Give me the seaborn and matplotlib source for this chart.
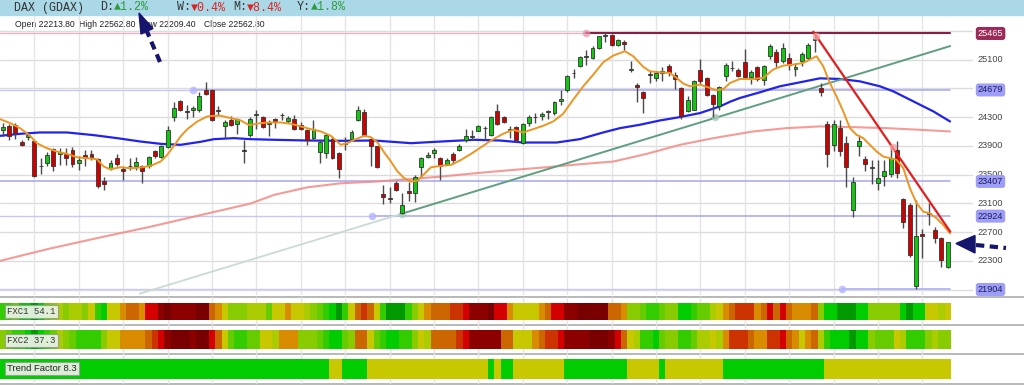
import numpy as np
import matplotlib
matplotlib.use("Agg")
import matplotlib.pyplot as plt
from matplotlib.colors import ListedColormap
from matplotlib.patches import Polygon, Rectangle
import seaborn as sns

# ---------------- data ----------------
opens = [24126,24181,24196,23954,24024,23973,23615,23670,23856,23791,
 23791,23847,23661,23773,23791,23717,23406,23578,23726,23578,
 23615,23615,23615,23615,23833,23745,23884,24303,24521,24386,
 24405,24395,24674,24674,24395,24182,24265,24210,23845,24056,
 24330,24302,24210,24279,24326,24247,24275,24196,24117,24010,
 23810,23801,23996,23801,23931,23996,24256,24368,23996,23894,
 23234,23178,23382,22964,23276,23252,23605,23745,23801,23731,
 23652,23791,23847,23977,24028,24112,24145,24056,24382,24302,
 24121,24163,23940,24219,24298,24321,24372,24358,24521,24684,
 24911,25009,25144,25125,25264,25427,25450,25311,25353,24958,
 24753,24646,24888,24846,24916,25018,24883,24707,24381,24405,
 24962,24846,24614,24461,24879,24981,24962,25064,24860,25000,
 24823,25148,25204,25078,25125,24976,25078,25125,25381,24707,
 24209,23917,24149,23940,23011,23902,23720,23595,23390,23483,
 23511,23846,23158,23079,21949,22680,22960,22732,22616,22213.8]
highs = [24219,24209,24219,23987,24080,23987,23731,23810,23870,23870,
 23870,23884,23754,23838,23838,23731,23475,23708,23791,23615,
 23731,23745,23638,23763,23838,23917,24172,24507,24535,24475,
 24461,24646,24786,24693,24461,24265,24321,24288,23987,24302,
 24396,24321,24256,24293,24358,24321,24330,24228,24135,24265,
 23987,24080,24033,23810,24024,24126,24451,24414,24010,23903,
 23359,23336,23406,23252,23392,23498,23745,23819,23870,23740,
 23726,23810,23926,24135,24126,24191,24182,24321,24488,24321,
 24172,24172,24219,24335,24358,24377,24405,24521,24674,24893,
 24972,25157,25232,25288,25436,25490,25464,25390,25371,25078,
 24776,24670,24939,24939,25000,25036,24925,24720,24600,24823,
 25111,24860,24628,24739,25055,25078,24986,25250,24962,25018,
 25032,25325,25250,25334,25195,25055,25204,25334,25460,24776,
 24242,24256,24256,24042,23475,24056,23754,23698,23698,23698,
 23870,23963,23172,23102,23150,22740,23102,22769,22639,22562.8]
lows = [24033,23987,23996,23894,23987,23475,23513,23615,23545,23638,
 23638,23606,23568,23615,23708,23313,23290,23568,23624,23420,
 23568,23568,23382,23591,23731,23731,23870,24242,24382,24275,
 24303,24368,24614,24242,24335,24010,24172,24070,23670,24024,
 24135,24144,24033,24144,24265,24219,24126,24126,23917,23987,
 23670,23731,23717,23452,23847,23987,24242,24042,23615,23591,
 23094,23104,23280,22955,23141,23127,23475,23731,23731,23429,
 23638,23652,23824,23950,23987,24103,23987,24042,24196,24219,
 24010,23959,23931,24172,24219,24265,24275,24335,24475,24646,
 24846,25000,25032,25111,25250,25343,25288,25288,25232,24925,
 24507,24358,24776,24800,24800,24869,24693,24275,24368,24395,
 24767,24600,24302,24405,24800,24939,24860,24846,24767,24800,
 24753,25111,25000,25055,24953,24869,25018,25102,25204,24591,
 23605,23824,23754,23336,22918,23763,23545,23372,23290,23345,
 23475,23450,22755,22358,21904,22340,22801,22546,22211,22209.4]
closes = [24163,24042,24080,23908,24052,23489,23624,23777,23615,23810,
 23731,23652,23708,23726,23745,23345,23368,23670,23652,23550,
 23620,23675,23545,23745,23754,23894,24117,24423,24405,24377,
 24423,24600,24628,24256,24391,24237,24196,24275,23835,24275,
 24340,24158,24214,24247,24335,24293,24135,24135,23987,24135,
 23954,24052,23736,23578,23945,24098,24395,24056,23894,23601,
 23187,23169,23290,23080,23243,23475,23731,23777,23847,23615,
 23708,23708,23894,24033,24038,24172,24154,24302,24210,24237,
 24131,23977,24200,24302,24307,24349,24382,24507,24554,24879,
 24920,25139,25153,25264,25427,25441,25311,25371,25315,24967,
 24720,24567,24897,24916,24944,24925,24832,24312,24544,24800,
 24800,24614,24488,24720,25032,24990,24869,24860,24925,24832,
 25009,25297,25064,25264,25032,24995,25185,25311,25394,24646,
 23791,24209,23824,23606,23404,23972,23652,23604,23451,23558,
 23731,23520,22847,22381,22646,22645,22969,22616,22313,22562.8]

orange_idx = [-0.42,1.16,2.74,4.32,5.38,6.96,8.54,10.12,11.70,13.28,14.87,15.92,16.97,18.56,20.14,
 21.72,23.30,24.88,25.94,26.99,28.04,29.10,30.68,32.26,33.32,34.37,35.95,37.53,38.85,40.68,
 42.26,43.84,45.42,47.0,48.58,50.16,51.74,53.32,54.37,55.42,57.0,58.05,59.11,60.16,61.21,
 62.26,63.32,64.37,65.42,66.47,67.53,69.11,70.68,72.26,73.84,75.42,77.0,78.89,80.47,82.05,
 83.63,85.21,86.79,88.37,89.95,91.53,93.11,94.68,96.26,98.11,99.42,101.0,102.05,103.63,105.21,
 106.26,107.32,108.37,109.95,111.53,112.58,113.63,114.68,116.21,118.32,119.89,121.47,123.05,124.63,126.21,
 127.26,128.32,129.37,130.42,131.47,132.53,133.58,134.63,135.68,136.74,137.79,138.84,139.89,140.95,142.0,
 143.05,144.11,145.16,146.21,147.26,148.32,149.37]
orange_val = [24274,24218,24148,24041,23939,23869,23823,23790,23744,23730,23716,23614,23576,23604,23590,
 23600,23623,23683,23776,23902,24032,24134,24241,24311,24320,24320,24288,24255,24190,24218,
 24227,24227,24209,24172,24134,24102,24041,23916,23939,23986,24041,24023,23948,23809,23683,
 23544,23451,23404,23418,23511,23604,23623,23637,23706,23790,23883,23976,24069,24125,24088,
 24134,24181,24241,24348,24544,24730,24892,25064,25157,25218,25148,25000,24939,24925,24916,
 24846,24767,24730,24753,24706,24674,24692,24776,24832,24832,24846,24962,25018,25032,25055,
 25102,25148,25009,24776,24590,24381,24148,24055,24009,23916,23823,23753,23730,23707,23590,
 23311,23102,22986,22962,22893,22800,22684]

blue_idx = [-0.42,2.74,5.90,10.12,14.34,18.03,21.72,24.88,28.04,31.21,33.32,36.48,39.0,42.79,48.05,
 53.32,58.58,64.37,69.11,74.37,78.37,82.05,87.32,91.0,94.68,97.32,100.47,103.63,106.79,109.95,
 113.11,114.68,116.21,119.37,122.53,125.68,128.84,132.0,135.16,138.32,140.42,142.53,144.63,146.74,149.37]
blue_val = [24041,24069,24088,24088,24051,24009,23962,23930,23916,23958,23995,24009,23995,23986,23976,
 23972,23976,23939,23962,23986,23976,23948,23948,23995,24088,24148,24195,24255,24302,24358,
 24451,24515,24567,24646,24730,24785,24841,24832,24799,24730,24660,24567,24474,24381,24241]

salmon_idx = [-0.42,7.49,15.39,23.30,31.21,39.11,42.79,48.05,53.32,58.58,63.84,69.11,74.37,80.47,
 85.74,91.0,96.26,101.53,106.79,112.05,118.32,123.58,128.84,134.11,139.37,144.63,149.37]
salmon_val = [22302,22474,22628,22777,22939,23100,23220,23325,23381,23404,23437,23474,23520,23567,
 23604,23646,23683,23790,23916,24009,24102,24148,24172,24162,24148,24125,24102]

levels = [25465, 24679, 23407, 22924, 21904]
level_anchor = [92.0, 30.0, -0.4, 58.2, 132.3]

green_trend_idx = [21.6, 63.0, 149.4]
green_trend_val = [21845, 22960, 25290]
red_trend_idx = [127.8, 149.4]
red_trend_val = [25490, 22708]
green_touch_idx = [63.0, 112.3]
green_touch_val = [22960, 24303]
red_touch_idx = [128.3, 140.3]
red_touch_val = [25427, 23880]

grid_ticks = [21900, 22300, 22700, 23100, 23500, 23900, 24300, 24700, 25100, 25500]
label_ticks = [22300, 22700, 23100, 23500, 23900, 24300, 25100]

fxc1 = [10,10,9,11,11,12,11,9,8,7, 8,7,7,8,6,10,11,6,6,5, 4,4,5,2,2,1,0,1,1,1,
        1,0,0,4,5,6,8,8,8,7, 7,7,9,6,6,5,6,6,7,8, 9,10,11,12,10,6,4,3,4,6,
        10,12,12,12,10,8,6,5,4,4, 4,3,3,2,1,1,1,0,2,2, 5,6,6,6,6,5,4,2,2,1,
        1,0,0,0,0,0,4,4,5,8, 8,9,10,10,9,8,8,11,11,10, 9,9,7,6,5,4,3,3,3,5,
        4,2,4,2,4,5,5,5,4,8, 11,11,12,12,12,11,11,8,8,8, 8,8,11,12,11,11,6,6,7,6]
fxc2 = [8,9,10,10,11,12,11,10,9,7, 8,9,10,10,10,10,8,6,6,5, 5,5,5,4,3,2,1,0,0,0,
        1,0,0,2,4,6,9,10,10,9, 9,6,6,7,5,5,5,8,8,8, 9,10,11,11,9,8,4,4,6,9,
        10,11,11,10,10,8,6,7,4,4, 4,4,3,2,1,1,1,1,1,4, 4,6,6,6,5,4,3,3,2,1,
        1,1,1,0,0,0,1,2,4,6, 7,10,10,11,9,8,8,10,10,9, 7,7,6,7,5,3,3,3,4,5,
        5,3,3,2,4,5,6,5,4,7, 10,11,11,11,12,11,11,8,9,9, 9,6,7,10,10,10,8,7,8,8]
trend = [1]*52 + [0]*2 + [1]*4 + [0]*19 + [1] + [0] + [1]*2 + [0]*8 + [1]*10 + [0]*5 + [1] + [0]*9 + [1]*16 + [0]*20

heat_colors = ['#780000', '#8c0000', '#d40000', '#cc3300', '#cc6600', '#d98c00', '#c8c800',
               '#aacc00', '#88cc00', '#66cc00', '#33cc00', '#00cc00', '#009900']
trend_colors = ['#c8c800', '#00cc00']

# ---------------- figure ----------------
sns.set_theme(style="white")
plt.rcParams['font.family'] = ['Liberation Sans', 'DejaVu Sans']
MONO = ['Liberation Mono', 'DejaVu Sans Mono']

W, H = 1024, 385
fig = plt.figure(figsize=(W / 100, H / 100), dpi=100)
fig.patch.set_facecolor('white')


def axes_px(x0, y0, x1, y1, z=1):
    a = fig.add_axes([x0 / W, 1 - y1 / H, (x1 - x0) / W, (y1 - y0) / H])
    a.set_zorder(z)
    a.patch.set_alpha(0)
    return a


XL = (-0.426, 152.99)
YL = (21827, 25708)
n = len(closes)
x = np.arange(n)

# background
bg = axes_px(0, 0, W, H, z=0)
bg.set_xlim(0, W); bg.set_ylim(H, 0); bg.set_axis_off()
bg.add_patch(Rectangle((0, 0), W, 15, color='#aad8e6', zorder=1))
for yy in [296.5, 325, 354, 383.5]:
    bg.axhline(yy, color='#b8b8b8', lw=1.4)

# header text
hdr_y = 7.5
bg.text(14, hdr_y, "DAX (GDAX)", family=MONO, fontsize=8.4, color='#333333', va='center')
for xs, lab, val, col in [(100, "D:", "\u25b21.2%", '#2f9a3f'), (177, "W:", "\u25bc0.4%", '#dd2222'),
                          (233, "M:", "\u25bc8.4%", '#dd2222'), (297, "Y:", "\u25b21.8%", '#2f9a3f')]:
    bg.text(xs, hdr_y, lab, family=MONO, fontsize=8.4, color='#333333', va='center')
    bg.text(xs + 14, hdr_y, val, family=MONO, fontsize=8.4, color=col, va='center')
for xs, s in [(15, "Open 22213.80"), (79, "High 22562.80"), (141, "Low 22209.40"), (204, "Close 22562.80")]:
    bg.text(xs, 24.5, s, fontsize=6.2, color='#222222', va='center')

# main chart
ax = axes_px(0, 16, 973, 295, z=2)
ax.set_xlim(XL); ax.set_ylim(YL)
ax.set_axis_off()
for t in grid_ticks:
    ax.plot([XL[0], XL[1]], [t, t], color='#dcdcdc', lw=1.0, zorder=0.5)
for g in range(5, n, 7):
    ax.plot([g, g], [YL[0], YL[1]], color='#e4e4e4', lw=1.0, zorder=0.5)

# level lines
for lv, anc in zip(levels, level_anchor):
    if lv == 25465:
        ax.plot([XL[0], anc], [lv, lv], color='#e6b4c4', lw=1.0, zorder=1)
        ax.plot([anc, 149.4], [lv, lv], color='#8c1c44', lw=1.5, zorder=1.2)
        ax.scatter([anc], [lv], s=30, color='#e890a8', alpha=0.7, zorder=1.3, linewidths=0)
    else:
        ax.plot([XL[0], anc], [lv, lv], color='#c8c8f6', lw=1.0, zorder=1)
        ax.plot([anc, 149.4], [lv, lv], color='#a4a4f4', lw=1.1, zorder=1.2)
        if anc > 0:
            ax.scatter([anc], [lv], s=30, color='#b4b4ff', alpha=0.8, zorder=1.3, linewidths=0)

# moving averages
sns.lineplot(x=salmon_idx, y=salmon_val, ax=ax, color='#f48a84', lw=1.5, alpha=0.85, zorder=1.5)
sns.lineplot(x=blue_idx, y=blue_val, ax=ax, color='#2222f0', lw=1.6, zorder=1.6)

# trend lines
ax.plot(green_trend_idx[:2], green_trend_val[:2], color='#c9dcd2', lw=1.3, zorder=1.7)
ax.plot(green_trend_idx[1:], green_trend_val[1:], color='#5f9f80', lw=1.4, zorder=1.7)
ax.scatter(green_touch_idx, green_touch_val, s=28, color='#a8c8b8', alpha=0.8, zorder=1.8, linewidths=0)

# candles
o = np.array(opens); c = np.array(closes); hi = np.array(highs); lo = np.array(lows)
ax.vlines(x, lo, hi, color='#4a4a4a', lw=1.0, zorder=3)
body_bot = np.minimum(o, c)
body_h = np.maximum(np.abs(c - o), 8)
cols = ['#10c810' if cc >= oo else '#d00000' for oo, cc in zip(o, c)]
ax.bar(x, body_h, bottom=body_bot, width=0.62, color=cols, edgecolor='#333333', linewidth=0.6, zorder=3.5)

sns.lineplot(x=orange_idx, y=orange_val, ax=ax, color='#ee9520', lw=1.4, zorder=3.8)
ax.plot(red_trend_idx, red_trend_val, color='#e41e1e', lw=1.6, zorder=4)
ax.scatter(red_touch_idx, red_touch_val, s=30, color='#f4a0a0', alpha=0.75, zorder=4.1, linewidths=0)

# right labels
LX = 153.75
for t in label_ticks:
    ax.text(LX, t, str(t), fontsize=6.6, color='#444444', va='center', ha='left', clip_on=False, zorder=5)
for lv in levels:
    if lv == 25465:
        fc, tc = '#9c2a58', 'white'
    else:
        fc, tc = '#9e9ef8', '#1c1c5c'
    ax.text(LX, lv, str(lv), fontsize=6.6, color=tc, va='center', ha='left', clip_on=False, zorder=6,
            bbox=dict(boxstyle='round,pad=0.22,rounding_size=0.3', fc=fc, ec='none'))

# lower panel grid
panel = axes_px(0, 295, 973, 385, z=1)
panel.set_xlim(XL); panel.set_ylim(385, 295); panel.set_axis_off()
for g in range(5, n, 7):
    panel.plot([g, g], [297, 383], color='#e4e4e4', lw=1.0)

# heat strips
XLh = (XL[0] + 0.5, XL[1] + 0.5)
for (y0, y1), arr, cl in [((303, 320), fxc1, heat_colors), ((330, 349), fxc2, heat_colors),
                           ((359, 379), trend, trend_colors)]:
    s = axes_px(0, y0, 973, y1, z=3)
    sns.heatmap(np.array([arr]), ax=s, cmap=ListedColormap(cl), vmin=-0.5, vmax=len(cl) - 0.5,
                cbar=False, xticklabels=False, yticklabels=False, linewidths=0)
    s.set_xlim(XLh)
    s.set_xlabel(''); s.set_ylabel('')
    for sp in s.spines.values():
        sp.set_visible(False)

# overlay: labels and arrows
ov = axes_px(0, 0, W, H, z=10)
ov.set_xlim(0, W); ov.set_ylim(H, 0); ov.set_axis_off()
box = dict(boxstyle='square,pad=0.25', fc='#eef3ea', ec='#9a9a9a', lw=0.8, alpha=0.92)
ov.text(7, 311.5, "FXC1 54.1", family=MONO, fontsize=6.5, color='#333333', va='center', bbox=box)
ov.text(7, 340.5, "FXC2 37.3", family=MONO, fontsize=6.5, color='#333333', va='center', bbox=box)
ov.text(7, 368.5, "Trend Factor 8.3", fontsize=6.8, color='#222222', va='center', bbox=box)

navy = '#15156e'
ov.plot([160, 147], [62, 31.5], color=navy, lw=3, linestyle=(0, (2.0, 1.3)), solid_capstyle='butt')
ov.add_patch(Polygon([(139, 13), (153, 28.5), (141, 34)], closed=True, color=navy))
ov.plot([976, 1006], [245, 248], color=navy, lw=3, linestyle=(0, (2.0, 1.3)))
ov.add_patch(Polygon([(956, 243.5), (975, 235.5), (975, 253)], closed=True, color=navy))

fig.savefig("out.png", dpi=100, facecolor='white')
